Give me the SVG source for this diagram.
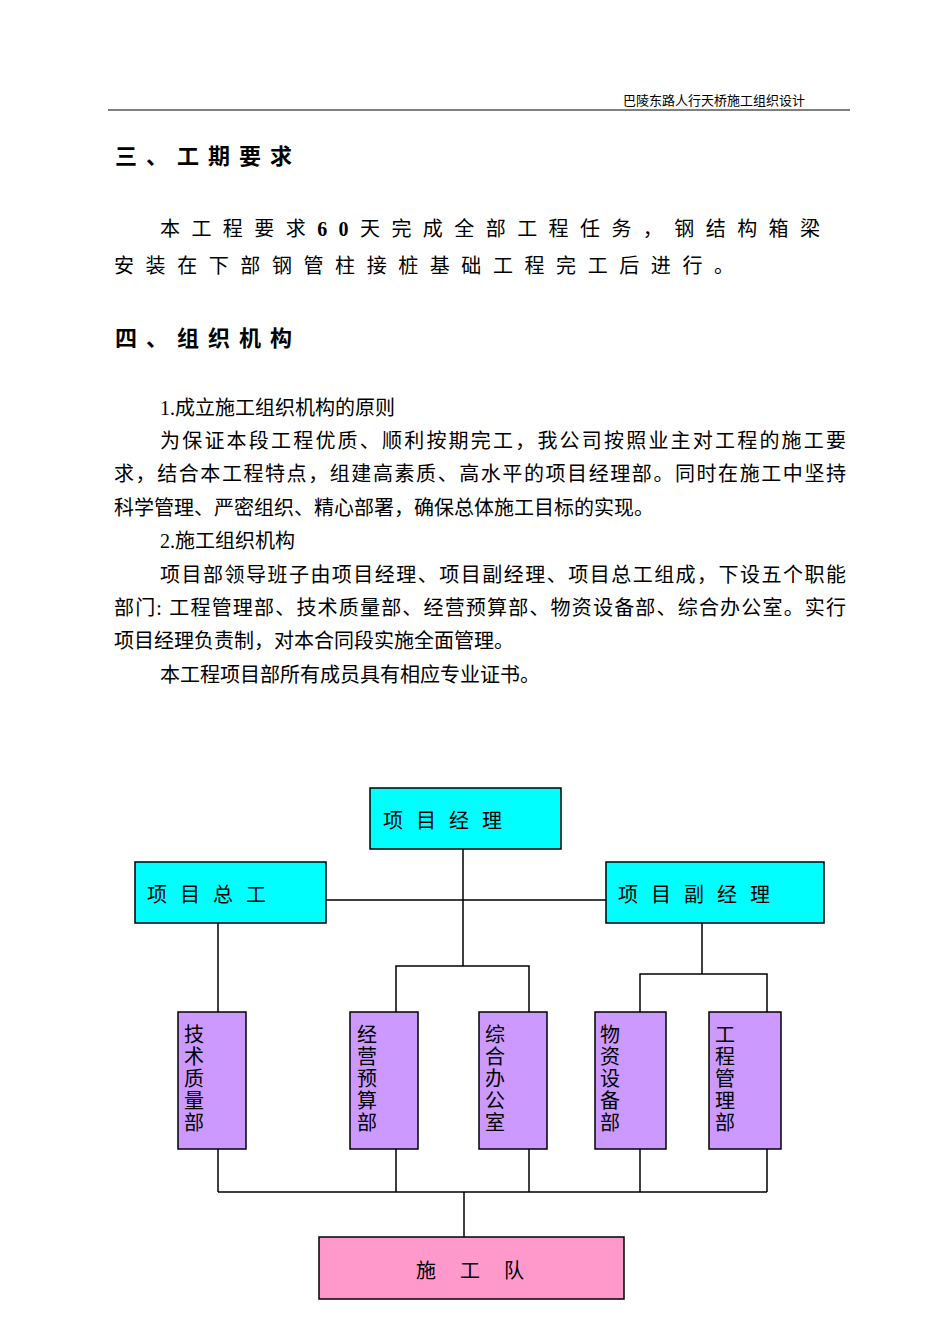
<svg xmlns="http://www.w3.org/2000/svg" width="950" height="1344" viewBox="0 0 950 1344">
<style>
text{font-family:"Liberation Serif","Noto Sans CJK SC",serif;fill:#000}
.b{font-size:20px}
.h{font-size:22px;font-weight:bold}
.n{stroke:#000;stroke-width:1.5}
.c{fill:#00ffff}.p{fill:#cc99ff}.k{fill:#ff99cc}
.l{stroke:#000;stroke-width:1.5;fill:none}
.t{font-size:20px}
</style>
<rect width="950" height="1344" fill="#fff"/>
<text x="805" y="105" font-size="13" text-anchor="end">巴陵东路人行天桥施工组织设计</text>
<line x1="108" y1="110" x2="850" y2="110" stroke="#000"/>
<text class="h" x="115" y="164" letter-spacing="9">三、工期要求</text>
<text class="b" x="160" y="236" textLength="660" lengthAdjust="spacing">本工程要求<tspan font-weight="bold">60</tspan>天完成全部工程任务，钢结构箱梁</text>
<text class="b" x="114" y="273" textLength="620" lengthAdjust="spacing">安装在下部钢管柱接桩基础工程完工后进行。</text>
<text class="h" x="115" y="346" letter-spacing="9">四、组织机构</text>
<text class="b" x="160" y="415">1.成立施工组织机构的原则</text>
<text class="b" x="160" y="448" textLength="686" lengthAdjust="spacing">为保证本段工程优质、顺利按期完工，我公司按照业主对工程的施工要</text>
<text class="b" x="114" y="481" textLength="732" lengthAdjust="spacing">求，结合本工程特点，组建高素质、高水平的项目经理部。同时在施工中坚持</text>
<text class="b" x="114" y="515">科学管理、严密组织、精心部署，确保总体施工目标的实现。</text>
<text class="b" x="160" y="548">2.施工组织机构</text>
<text class="b" x="160" y="582" textLength="686" lengthAdjust="spacing">项目部领导班子由项目经理、项目副经理、项目总工组成，下设五个职能</text>
<text class="b" x="114" y="615" textLength="732" lengthAdjust="spacing">部门: 工程管理部、技术质量部、经营预算部、物资设备部、综合办公室。实行</text>
<text class="b" x="114" y="648">项目经理负责制，对本合同段实施全面管理。</text>
<text class="b" x="160" y="682">本工程项目部所有成员具有相应专业证书。</text>
<g id="connectors">
<path class="l" d="M326 900H606M463 849V966M396 1012V966H529V1012M218 923V1012M702 923V974M640 1012V974H767V1012M218 1149V1192M396 1149V1192M529 1149V1192M640 1149V1192M767 1149V1192M218 1192H767M464 1192V1237"/>
</g>
<g id="pm"><rect class="n c" x="370" y="788" width="191" height="61"/><text class="t" x="383" y="828" letter-spacing="13">项目经理</text></g>
<g id="ce"><rect class="n c" x="135" y="862" width="191" height="61"/><text class="t" x="147" y="902" letter-spacing="13">项目总工</text></g>
<g id="dpm"><rect class="n c" x="606" y="862" width="218" height="61"/><text class="t" x="618" y="902" letter-spacing="13">项目副经理</text></g>
<g id="d1"><rect class="n p" x="178" y="1012" width="68" height="137"/><text class="t" x="184" y="1042">技</text><text class="t" x="184" y="1064">术</text><text class="t" x="184" y="1086">质</text><text class="t" x="184" y="1108">量</text><text class="t" x="184" y="1130">部</text></g>
<g id="d2"><rect class="n p" x="350" y="1012" width="68" height="137"/><text class="t" x="357" y="1042">经</text><text class="t" x="357" y="1064">营</text><text class="t" x="357" y="1086">预</text><text class="t" x="357" y="1108">算</text><text class="t" x="357" y="1130">部</text></g>
<g id="d3"><rect class="n p" x="479" y="1012" width="68" height="137"/><text class="t" x="485" y="1042">综</text><text class="t" x="485" y="1064">合</text><text class="t" x="485" y="1086">办</text><text class="t" x="485" y="1108">公</text><text class="t" x="485" y="1130">室</text></g>
<g id="d4"><rect class="n p" x="595" y="1012" width="71" height="137"/><text class="t" x="600" y="1042">物</text><text class="t" x="600" y="1064">资</text><text class="t" x="600" y="1086">设</text><text class="t" x="600" y="1108">备</text><text class="t" x="600" y="1130">部</text></g>
<g id="d5"><rect class="n p" x="709" y="1012" width="72" height="137"/><text class="t" x="715" y="1042">工</text><text class="t" x="715" y="1064">程</text><text class="t" x="715" y="1086">管</text><text class="t" x="715" y="1108">理</text><text class="t" x="715" y="1130">部</text></g>
<g id="team"><rect class="n k" x="319" y="1237" width="305" height="62"/><text class="t" x="416" y="1278" letter-spacing="24">施工队</text></g>
</svg>
